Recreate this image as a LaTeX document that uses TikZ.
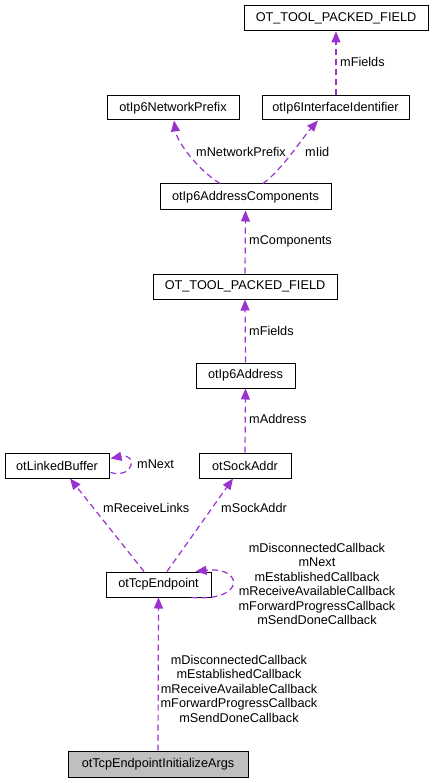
\documentclass[tikz,border=0pt]{standalone}
\usepackage{fontspec}
\setmainfont{Liberation Sans}
\usetikzlibrary{arrows.meta}
\definecolor{edgec}{HTML}{9A32CD}
\definecolor{argsfill}{HTML}{BFBFBF}
\tikzset{
  cls/.style={draw=black, line width=1pt, fill=white, inner sep=0pt, minimum height=25pt, font=\fontsize{12.7}{14.5}\selectfont},
  dep/.style={draw=edgec, line width=1.2pt, dash pattern=on 6pt off 4pt, -{Triangle[length=11pt,width=9pt]}},
  lbl/.style={font=\fontsize{12.7}{14.5}\selectfont, inner sep=0pt, text=black},
}
\begin{document}
\begin{tikzpicture}[x=1pt,y=-1pt]
\useasboundingbox (0,0) rectangle (433,783);
% nodes
\node[cls, minimum width=184pt] (tpfa) at (336,18.5) {OT\_TOOL\_PACKED\_FIELD};
\node[cls, minimum width=132pt, minimum height=24pt] (np) at (173,108) {otIp6NetworkPrefix};
\node[cls, minimum width=147pt, minimum height=24pt] (iid) at (335.5,108) {otIp6InterfaceIdentifier};
\node[cls, minimum width=171pt, minimum height=26pt] (ac) at (245.5,197) {otIp6AddressComponents};
\node[cls, minimum width=184pt] (tpfb) at (245,286.5) {OT\_TOOL\_PACKED\_FIELD};
\node[cls, minimum width=99pt] (addr) at (245.5,375.5) {otIp6Address};
\node[cls, minimum width=104pt] (lb) at (57,465.5) {otLinkedBuffer};
\node[cls, minimum width=92pt] (sa) at (245,465.5) {otSockAddr};
\node[cls, minimum width=105pt] (tcp) at (158.5,584.5) {otTcpEndpoint};
\node[cls, minimum width=180pt, minimum height=26pt, fill=argsfill] (args) at (158,764) {otTcpEndpointInitializeArgs};
% edges
\draw[dep] (tpfa.south |- iid.north) -- (tpfa.south);
\draw[dep] ([xshift=-25.5pt]ac.north) .. controls (198,170) and (177,142) .. ([xshift=1pt]np.south);
\draw[dep] ([xshift=17.5pt]ac.north) .. controls (282,170) and (304,136) .. ([xshift=-17.5pt]iid.south);
\draw[dep] (tpfb.north) -- (ac.south);
\draw[dep] (addr.north) -- (tpfb.south);
\draw[dep] (sa.north) -- (addr.south);
\draw[dep] ([xshift=1pt,yshift=-7pt]lb.east) .. controls (134,479) and (138,453) .. ([xshift=1pt,yshift=7pt]lb.east);
\draw[dep] ([xshift=-14.5pt]tcp.north) -- ([xshift=13pt]lb.south);
\draw[dep] ([xshift=8.5pt]tcp.north) -- ([xshift=-12pt]sa.south);
\draw[dep] ([xshift=33pt]tcp.south) .. controls (246,602) and (244,566) .. ([xshift=37pt]tcp.north);
\draw[dep] (args.north) -- (tcp.south);
% labels
\node[lbl, anchor=west] (l1) at (340,62) {mFields};
\node[lbl, anchor=west] (l2) at (196,152) {mNetworkPrefix};
\node[lbl, anchor=west] (l3) at (305,152) {mIid};
\node[lbl, anchor=west] (l4) at (249,241) {mComponents};
\node[lbl, anchor=west] (l5) at (249,331) {mFields};
\node[lbl, anchor=west] (l6) at (249,419) {mAddress};
\node[lbl, anchor=west] (l7) at (137,464) {mNext};
\node[lbl, anchor=west] (l8) at (103,508) {mReceiveLinks};
\node[lbl, anchor=west] (l9) at (221,508) {mSockAddr};
\node[lbl, align=center] (l10) at (317,584) {mDisconnectedCallback\\mNext\\mEstablishedCallback\\mReceiveAvailableCallback\\mForwardProgressCallback\\mSendDoneCallback};
\node[lbl, align=center] (l11) at (239,688.5) {mDisconnectedCallback\\mEstablishedCallback\\mReceiveAvailableCallback\\mForwardProgressCallback\\mSendDoneCallback};
\end{tikzpicture}
\end{document}
